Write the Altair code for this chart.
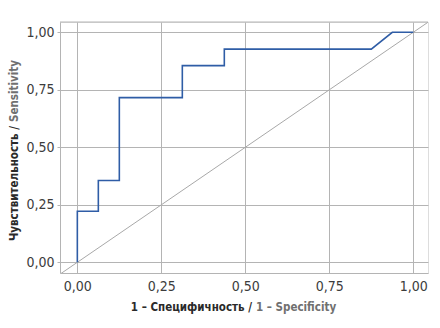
import altair as alt
import pandas as pd

# ROC curve points (1 - specificity, sensitivity)
fpr = [0.0, 0.0, 0.0625, 0.0625, 0.125, 0.125, 0.3125, 0.3125, 0.4375, 0.4375, 0.875, 0.9375, 1.0]
tpr = [0.0, 0.222, 0.222, 0.356, 0.356, 0.716, 0.716, 0.855, 0.855, 0.927, 0.927, 1.0, 1.0]
diag = [-0.1, 1.1]
tick_values = [0.0, 0.25, 0.5, 0.75, 1.0]

x_title_ru = "1 – Специфичность /"
x_title_en = "1 – Specificity"
y_title_ru = "Чувствительность /"
y_title_en = "Sensitivity"

W, H = 368, 251
FONT = "DejaVu Sans Condensed, Liberation Sans Narrow, sans-serif"
GRID = "#b4b4b4"
TFS = 11.5

roc = pd.DataFrame({"x": fpr, "y": tpr, "i": list(range(len(fpr)))})
dg = pd.DataFrame({"x": diag, "y": diag})

xs = alt.Scale(domain=[-0.0516, 1.0438], nice=False, zero=False)
ys = alt.Scale(domain=[-0.0465, 1.0448], nice=False, zero=False)
fmt = "replace(format(datum.value, '.2f'), '.', ',')"

xax = alt.Axis(values=tick_values, labelExpr=fmt, title=None, grid=True, gridColor=GRID,
               gridWidth=1, domainColor=GRID, ticks=False, labelFont=FONT, labelFontSize=14,
               labelColor="#3c3c3c", labelPadding=6)
yax = alt.Axis(values=tick_values, labelExpr=fmt, title=None, grid=True, gridColor=GRID,
               gridWidth=1, domainColor=GRID, ticks=True, tickColor=GRID, tickSize=3,
               labelFont=FONT, labelFontSize=14, labelColor="#3c3c3c", labelPadding=3)

diag_line = alt.Chart(dg).mark_line(color="#a8a8a8", strokeWidth=1, clip=True).encode(
    x=alt.X("x:Q", scale=xs, axis=xax), y=alt.Y("y:Q", scale=ys, axis=yax))

roc_line = alt.Chart(roc).mark_line(color="#2f5da6", strokeWidth=1.6, clip=True).encode(
    x=alt.X("x:Q", scale=xs), y=alt.Y("y:Q", scale=ys), order="i:Q")

top_rule = alt.Chart(pd.DataFrame({"a": [0]})).mark_rule(color=GRID, strokeWidth=1).encode(
    x=alt.value(0), x2=alt.value(W), y=alt.value(0))

tdf = pd.DataFrame({"a": [0]})
xt1 = alt.Chart(tdf).mark_text(text=x_title_ru, font=FONT, fontSize=TFS, fontWeight="bold",
                               color="#2a2a2a", align="right", baseline="middle").encode(
    x=alt.value(192), y=alt.value(286))
xt2 = alt.Chart(tdf).mark_text(text=x_title_en, font=FONT, fontSize=TFS, fontWeight="bold",
                               color="#707070", align="left", baseline="middle").encode(
    x=alt.value(196), y=alt.value(286))
yt1 = alt.Chart(tdf).mark_text(text=y_title_ru, font=FONT, fontSize=TFS, fontWeight="bold",
                               color="#2a2a2a", align="right", baseline="middle", angle=270).encode(
    x=alt.value(-45), y=alt.value(104))
yt2 = alt.Chart(tdf).mark_text(text=y_title_en, font=FONT, fontSize=TFS, fontWeight="bold",
                               color="#707070", align="left", baseline="middle", angle=270).encode(
    x=alt.value(-45), y=alt.value(100))

chart = alt.layer(diag_line, roc_line, top_rule, xt1, xt2, yt1, yt2).properties(
    width=W, height=H,
    autosize=alt.AutoSizeParams(type="none"),
    padding={"left": 60, "top": 22, "right": 12, "bottom": 55},
).configure_view(stroke=None).configure(background="white")

chart.save("out.html", embed_options={"renderer": "svg", "actions": False})
